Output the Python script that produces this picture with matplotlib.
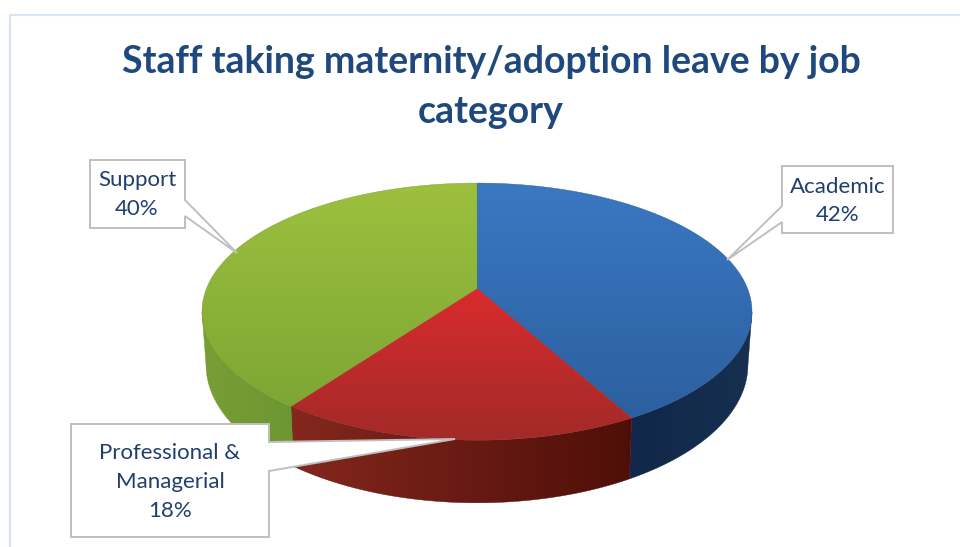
import numpy as np
import matplotlib
matplotlib.use('Agg')
import matplotlib.pyplot as plt
from matplotlib.colors import to_rgb
from matplotlib.patches import Polygon

plt.rcParams['font.family'] = ['Lato', 'DejaVu Sans']

title_lines = ['Staff taking maternity/adoption leave by job', 'category']
categories = ['Academic', 'Professional &\nManagerial', 'Support']
shares = [42, 18, 40]

# top surface gradient (far edge to near edge), side gradient (left to right)
top_colours = [('#3a78c2', '#2b5d9c'), ('#da2b2e', '#a22a28'), ('#9dc03d', '#78a233')]
side_colours = [('#11264a', '#17314f'), ('#85281e', '#4d0e08'), ('#7a9f35', '#6b9632')]

TITLE_COLOUR = '#1f497d'
LABEL_COLOUR = '#1f3f6e'
BOX_EDGE = '#bfbfbf'
FRAME = '#d6e4f5'
TILT = 0.18

# callout outlines, in pixels
callouts = [
    [(782, 166), (893, 166), (893, 233), (782, 233), (782, 222), (727, 260), (782, 206)],
    [(71, 424), (269, 424), (269, 442), (455, 439), (269, 471), (269, 537), (71, 537)],
    [(90, 160), (185, 160), (185, 200), (237, 253), (185, 216), (185, 228), (90, 228)],
]
label_pos = [(838, 201), (170, 482), (137, 194.5)]


def disc_points(angle, cx, cy, a, b):
    # perspective view of a circle, angle runs clockwise from the far edge
    w = 1 + TILT * np.cos(angle)
    return cx + a * np.sin(angle) / w, cy - b * np.cos(angle) / w


def top_disc(angle):
    return disc_points(angle, 477, 288.5, 270.5, 124.4)


def bottom_disc(angle):
    return disc_points(angle, 477, 340, 266.5, 133.5)


def gradient_fill(ax, outline, start, end, extent, vertical, zorder):
    ramp = np.linspace(0, 1, 256)
    ramp = ramp[:, None, None] if vertical else ramp[None, :, None]
    start, end = np.array(to_rgb(start)), np.array(to_rgb(end))
    shade = start[None, None, :] * (1 - ramp) + end[None, None, :] * ramp
    im = ax.imshow(shade, extent=extent, aspect='auto', origin='upper', zorder=zorder)
    im.set_clip_path(Polygon(outline, closed=True, transform=ax.transData))
    ax.add_patch(Polygon(outline, closed=True, fill=False, edgecolor=tuple(end), linewidth=0.3, zorder=zorder))


def draw_pie(ax):
    fractions = np.array(shares) / sum(shares)
    edges = np.concatenate([[0], np.cumsum(fractions)]) * 2 * np.pi

    # side wall first, it runs between the two widest points of the discs
    for i in range(len(shares)):
        angles = np.linspace(edges[i], edges[i + 1], 300)
        angles = angles[np.cos(angles) < -TILT]
        x1, y1 = top_disc(angles)
        x2, y2 = bottom_disc(angles)
        outline = np.column_stack([np.concatenate([x1, x2[::-1]]), np.concatenate([y1, y2[::-1]])])
        extent = (x1.min() - 8, x1.max() + 8, 510, 250)
        gradient_fill(ax, outline, side_colours[i][0], side_colours[i][1], extent, False, 2)

    for i in range(len(shares)):
        angles = np.linspace(edges[i], edges[i + 1], 200)
        x, y = top_disc(angles)
        outline = np.column_stack([np.append(x, 477), np.append(y, 288.5)])
        y0 = 288 if i == 1 else 183
        gradient_fill(ax, outline, top_colours[i][0], top_colours[i][1], (200, 755, 440, y0), True, 3)


def main():
    fig = plt.figure(figsize=(9.6, 5.47), dpi=100)
    ax = fig.add_axes([0, 0, 1, 1])

    draw_pie(ax)

    ax.set_xlim(0, 960)
    ax.set_ylim(547, 0)
    ax.axis('off')

    # chart frame, only the top and left edges show
    ax.plot([960, 10, 10], [15, 15, 547], color=FRAME, linewidth=1.5, zorder=1)

    ax.text(491, 62, title_lines[0], color=TITLE_COLOUR, fontsize=27, fontweight='bold', ha='center', va='center', zorder=6)
    ax.text(491, 112, title_lines[1], color=TITLE_COLOUR, fontsize=27, fontweight='bold', ha='center', va='center', zorder=6)

    for outline, name, share, pos in zip(callouts, categories, shares, label_pos):
        ax.add_patch(Polygon(outline, closed=True, facecolor='white', edgecolor=BOX_EDGE, linewidth=1.4, joinstyle='miter', zorder=4))
        ax.text(pos[0], pos[1], '%s\n%d%%' % (name, share), color=LABEL_COLOUR, fontsize=16, ha='center', va='center', linespacing=1.56, zorder=5)

    fig.savefig('out.png', dpi=100)


if __name__ == '__main__':
    main()
